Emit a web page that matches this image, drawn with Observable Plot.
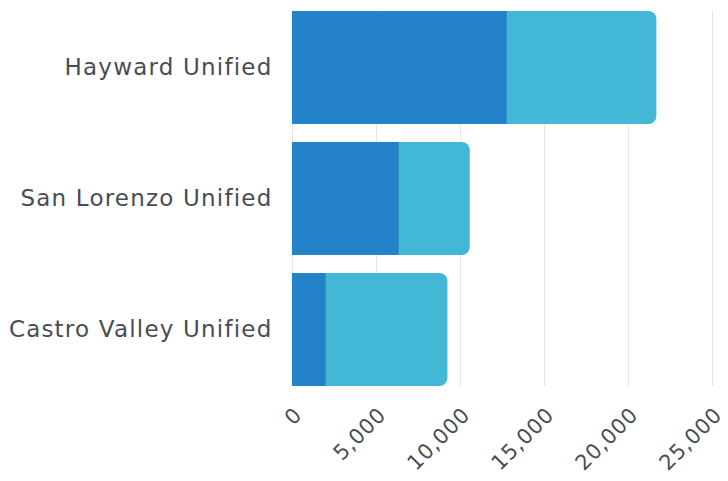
<!DOCTYPE html>
<html>
<head>
<meta charset="utf-8">
<script src="https://cdn.jsdelivr.net/npm/d3@7"></script>
<script src="https://cdn.jsdelivr.net/npm/@observablehq/plot@0.6"></script>
<style>
  html, body { margin: 0; padding: 0; background: #fff; }
  #chart svg { display: block; }
  #chart svg g[aria-label="y-axis tick label"] text { letter-spacing: 1.2px; }
  #chart svg g[aria-label="x-axis tick label"] text { letter-spacing: 0.8px; }
</style>
</head>
<body>
<div id="chart"></div>
<script>
const districts = ["Hayward Unified", "San Lorenzo Unified", "Castro Valley Unified"];
const darkValues = [12780, 6350, 2000];
const lightValues = [8910, 4230, 7250];
const xTicks = [0, 5000, 10000, 15000, 20000, 25000];

const rows = districts.map((d, i) => ({
  district: d,
  dark: darkValues[i],
  total: darkValues[i] + lightValues[i]
}));

const chart = Plot.plot({
  width: 728,
  height: 481,
  marginTop: 10,
  marginBottom: 95,
  marginLeft: 292,
  marginRight: 16,
  style: { fontFamily: "DejaVu Sans", fontSize: "22px", color: "#474d55", background: "#fff" },
  x: { domain: [0, 25000], ticks: xTicks, tickFormat: d3.format(","), grid: false, label: null },
  y: { domain: districts, paddingInner: 0.14, paddingOuter: 0, label: null },
  marks: [
    Plot.ruleX(xTicks, { stroke: "#e5e5e5", strokeWidth: 1 }),
    Plot.barX(rows, { y: "district", x: "total", fill: "#42b7d6", rx: 8 }),
    Plot.barX(rows, { y: "district", x: "dark", fill: "#2382c8" }),
    Plot.axisY({ tickSize: 0, tickPadding: 20, fontSize: 23, label: null }),
    Plot.axisX({ ticks: xTicks, tickFormat: d3.format(","), tickSize: 0, tickRotate: -45, tickPadding: 14, fontSize: 21, dx: 6, dy: 11, label: null })
  ]
});
document.getElementById("chart").appendChild(chart);
</script>
</body>
</html>
